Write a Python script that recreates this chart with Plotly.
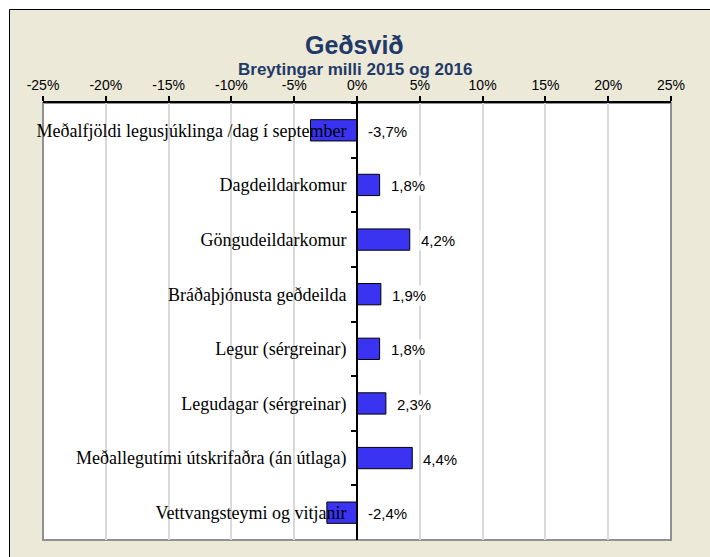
import plotly.graph_objects as go

# Data: percentage change between 2015 and 2016
categories = [
    "Meðalfjöldi legusjúklinga /dag í september",
    "Dagdeildarkomur",
    "Göngudeildarkomur",
    "Bráðaþjónusta geðdeilda",
    "Legur (sérgreinar)",
    "Legudagar (sérgreinar)",
    "Meðallegutími útskrifaðra (án útlaga)",
    "Vettvangsteymi og vitjanir",
]
changes = [-3.7, 1.8, 4.2, 1.9, 1.8, 2.3, 4.4, -2.4]

tick_values = [-25, -20, -15, -10, -5, 0, 5, 10, 15, 20, 25]
tick_labels = ["-25%", "-20%", "-15%", "-10%", "-5%", "0%", "5%", "10%", "15%", "20%", "25%"]

title_text = "Geðsvið"
subtitle_text = "Breytingar milli 2015 og 2016"

W, H = 710, 557
L, R, T, B = 43, 39, 103, 17
pw, ph = W - L - R, H - T - B


def px_to_paper_x(px):
    return (px - L) / pw


def px_to_paper_y(py):
    return (H - B - py) / ph


def pct_label(v):
    return f"{v:.1f}".replace(".", ",") + "%"


fig = go.Figure()
fig.add_trace(
    go.Bar(
        x=changes,
        y=categories,
        orientation="h",
        marker=dict(color="#3A34F2", line=dict(color="#000000", width=1)),
        width=0.39,
        hoverinfo="skip",
    )
)

# Value labels sit to the right of the zero line / bar end
annotations = []
for cat, v in zip(categories, changes):
    annotations.append(
        dict(
            x=max(v, 0),
            y=cat,
            xref="x",
            yref="y",
            text=pct_label(v),
            showarrow=False,
            xanchor="left",
            yanchor="middle",
            xshift=9,
            yshift=-1,
            font=dict(family="Liberation Sans, Arial", size=15, color="#000000"),
            bgcolor="#FFFFFF",
            borderpad=1,
        )
    )

annotations.append(
    dict(
        x=px_to_paper_x(354), y=px_to_paper_y(45), xref="paper", yref="paper",
        text=f"<b>{title_text}</b>", showarrow=False, xanchor="center", yanchor="middle",
        font=dict(family="Liberation Sans, Arial", size=25, color="#1F3A68"),
    )
)
annotations.append(
    dict(
        x=px_to_paper_x(355), y=px_to_paper_y(69), xref="paper", yref="paper",
        text=f"<b>{subtitle_text}</b>", showarrow=False, xanchor="center", yanchor="middle",
        font=dict(family="Liberation Sans, Arial", size=17, color="#1F3A68"),
    )
)

shapes = [
    # outer chart frame
    dict(
        type="rect", xref="paper", yref="paper", layer="below",
        x0=px_to_paper_x(9.5), x1=px_to_paper_x(W + 20),
        y0=px_to_paper_y(H + 20), y1=px_to_paper_y(9.5),
        fillcolor="#ECE9D8", line=dict(color="#000000", width=1),
    ),
    # plot area
    dict(
        type="rect", xref="paper", yref="paper", layer="below",
        x0=0, x1=1, y0=0, y1=1,
        fillcolor="#FFFFFF", line=dict(color="#909090", width=2),
    ),
]

fig.update_layout(
    width=W,
    height=H,
    margin=dict(l=L, r=R, t=T, b=B),
    paper_bgcolor="#FFFFFF",
    plot_bgcolor="#FFFFFF",
    showlegend=False,
    bargap=0.61,
    annotations=annotations,
    shapes=shapes,
    xaxis=dict(
        side="top",
        range=[-25, 25],
        tickvals=tick_values,
        ticktext=tick_labels,
        tickfont=dict(family="Liberation Sans, Arial", size=14, color="#000000"),
        showgrid=True,
        gridcolor="#D9D9D9",
        gridwidth=2,
        zeroline=False,
        showline=True,
        linecolor="#000000",
        linewidth=2,
        ticks="outside",
        ticklen=5,
        tickwidth=2,
        tickcolor="#000000",
        fixedrange=True,
    ),
    yaxis=dict(
        autorange="reversed",
        anchor="free",
        position=0.5,
        showline=True,
        linecolor="#000000",
        linewidth=2,
        ticks="outside",
        ticklen=5,
        tickwidth=2,
        tickcolor="#000000",
        tickson="boundaries",
        showgrid=False,
        ticklabelstandoff=6,
        tickfont=dict(family="Liberation Serif, Times New Roman", size=18, color="#000000"),
        layer="above traces",
        fixedrange=True,
    ),
)

fig.write_html("out.html")
